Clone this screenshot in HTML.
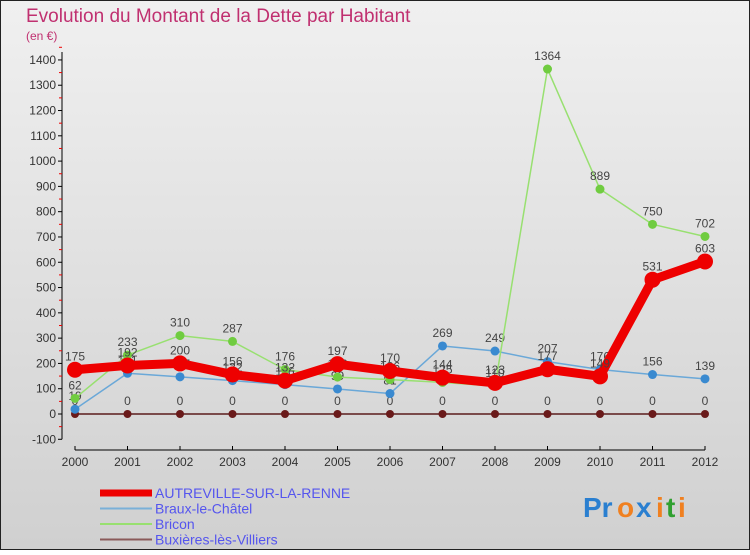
<!DOCTYPE html>
<html><head><meta charset="utf-8"><style>
body{margin:0;width:750px;height:550px;overflow:hidden;font-family:"Liberation Sans",sans-serif}
svg text{font-family:"Liberation Sans",sans-serif}
</style></head><body>
<svg id="c" width="750" height="550" xmlns="http://www.w3.org/2000/svg">
<defs><linearGradient id="bg" x1="0" y1="0" x2="0" y2="1"><stop offset="0" stop-color="#f0f0f0"/><stop offset="1" stop-color="#d0d0d0"/></linearGradient></defs>
<rect x="0.5" y="0.5" width="749" height="549" fill="url(#bg)" stroke="#222"/>
<text x="26" y="22" font-size="19" fill="#c03070">Evolution du Montant de la Dette par Habitant</text>
<text x="26" y="40" font-size="12" fill="#c03070">(en €)</text>
<g id="axes"></g><g id="series"></g><g id="legend"></g>
<g font-size="28" font-weight="bold">
<text x="583" y="517" fill="#2a7fd0">Pr</text><text x="617" y="517" fill="#f08020">o</text><text x="636" y="517" fill="#2a7fd0">x</text><text x="656" y="517" fill="#f08020">i</text><text x="666" y="517" fill="#30a030">t</text><text x="678" y="517" fill="#f08020">i</text>
</g>
</svg>
<script>
const years=[2000,2001,2002,2003,2004,2005,2006,2007,2008,2009,2010,2011,2012];
const yTicks=[-100,0,100,200,300,400,500,600,700,800,900,1000,1100,1200,1300,1400];
const autreville=[175,192,200,156,132,197,170,144,123,177,149,531,603];
const braux=[19,161,147,132,116,99,81,269,249,207,176,156,139];
const bricon=[62,233,310,287,176,146,136,125,110,1364,889,750,702];
const buxieres=[0,0,0,0,0,0,0,0,0,0,0,0,0];
const NS="http://www.w3.org/2000/svg";
const X=i=>75+i*52.5;
const Y=v=>414-v*0.2529;
function mk(p,t,a){const e=document.createElementNS(NS,t);for(const k in a)e.setAttribute(k,a[k]);p.appendChild(e);return e;}
const ax=document.getElementById('axes');
let yl=mk(ax,'line',{x1:62,y1:Y(1400)-8,x2:62,y2:Y(-100),stroke:'#000'});


yTicks.forEach(v=>{
 mk(ax,'line',{x1:58,y1:Y(v),x2:62,y2:Y(v),stroke:'#000'});
 mk(ax,'line',{x1:59,y1:Y(v+50),x2:62,y2:Y(v+50),stroke:'#e00'});
 const t=mk(ax,'text',{x:56,y:Y(v)+4,'font-size':12,'text-anchor':'end',fill:'#333'});
 t.textContent=v;
 
 
});
let xl=mk(ax,'line',{x1:75,y1:450,x2:705,y2:450,stroke:'#000'});


years.forEach((yr,i)=>{
 mk(ax,'line',{x1:X(i),y1:446,x2:X(i),y2:450,stroke:'#000'});
 const t=mk(ax,'text',{x:X(i),y:466,'font-size':12,'text-anchor':'middle',fill:'#333'});
 t.textContent=yr;
 
 
});
const S=document.getElementById('series');
const series=[
 {n:'buxieres',d:buxieres,c:'#7a4a4a',w:2,r:4,pc:'#6a1a1a'},
 {n:'braux',d:braux,c:'#6aa8d8',w:1.5,r:4.5,pc:'#3a8ad0'},
 {n:'bricon',d:bricon,c:'#98e070',w:1.5,r:4.5,pc:'#70cc40'},
 {n:'autreville',d:autreville,c:'#ee0000',w:9,r:8,pc:'#ee0000'}
];
series.forEach(s=>{
 const g=mk(S,'g',{});
 
 
 mk(g,'polyline',{points:s.d.map((v,i)=>X(i)+','+Y(v)).join(' '),fill:'none',stroke:s.c,'stroke-width':s.w,'stroke-linejoin':'round'});
 s.d.forEach((v,i)=>{
  const c=mk(g,'circle',{cx:X(i),cy:Y(v),r:s.r,fill:s.pc});
  
  
  const t=mk(g,'text',{x:X(i),y:Y(v)-9,'font-size':12,'text-anchor':'middle',fill:'#444'});
  t.textContent=v;
  
  
 });
});
const L=document.getElementById('legend');
const leg=[['AUTREVILLE-SUR-LA-RENNE','#ee0000',7],['Braux-le-Châtel','#7ab0d8',2],['Bricon','#98e070',2],['Buxières-lès-Villiers','#8a5a5a',2]];
leg.forEach((l,i)=>{
 const y=492+i*15.5;
 const g=mk(L,'g',{});
 
 
 mk(g,'line',{x1:100,y1:y+1,x2:152,y2:y+1,stroke:l[1],'stroke-width':l[2]});
 const t=mk(g,'text',{x:155,y:y+6,'font-size':14,fill:'#5555ee'});
 t.textContent=l[0];
});
</script>
</body></html>
